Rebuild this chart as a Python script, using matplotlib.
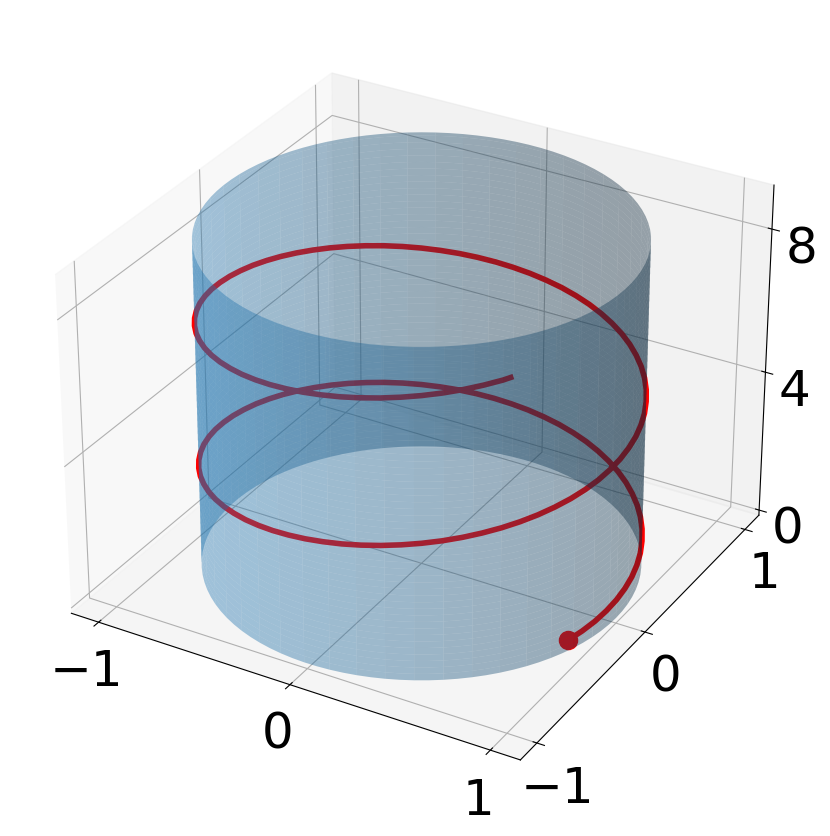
import numpy as np
import matplotlib
matplotlib.use("Agg")
import matplotlib.pyplot as plt

# helix in steps of 5 degrees round the cylinder
helix_x = [0.940, 0.966, 0.985, 0.996, 1.000, 0.996, 0.985, 0.966, 0.940, 0.906, 0.866, 0.819,
           0.766, 0.707, 0.643, 0.574, 0.500, 0.423, 0.342, 0.259, 0.174, 0.087, 0.000, -0.087,
           -0.174, -0.259, -0.342, -0.423, -0.500, -0.574, -0.643, -0.707, -0.766, -0.819, -0.866, -0.906,
           -0.940, -0.966, -0.985, -0.996, -1.000, -0.996, -0.985, -0.966, -0.940, -0.906, -0.866, -0.819,
           -0.766, -0.707, -0.643, -0.574, -0.500, -0.423, -0.342, -0.259, -0.174, -0.087, 0.000, 0.087,
           0.174, 0.259, 0.342, 0.423, 0.500, 0.574, 0.643, 0.707, 0.766, 0.819, 0.866, 0.906,
           0.940, 0.966, 0.985, 0.996, 1.000, 0.996, 0.985, 0.966, 0.940, 0.906, 0.866, 0.819,
           0.766, 0.707, 0.643, 0.574, 0.500, 0.423, 0.342, 0.259, 0.174, 0.087, 0.000, -0.087,
           -0.174, -0.259, -0.342, -0.423, -0.500, -0.574, -0.643, -0.707, -0.766, -0.819, -0.866, -0.906,
           -0.940, -0.966, -0.985, -0.996, -1.000, -0.996, -0.985, -0.966, -0.940, -0.906, -0.866, -0.819,
           -0.766, -0.707, -0.643, -0.574, -0.500, -0.423, -0.342, -0.259, -0.174, -0.087, 0.000, 0.087,
           0.174, 0.259, 0.342, 0.423, 0.500, 0.574, 0.643, 0.707, 0.766, 0.788]
helix_y = [-0.342, -0.259, -0.174, -0.087, 0.000, 0.087, 0.174, 0.259, 0.342, 0.423, 0.500, 0.574,
           0.643, 0.707, 0.766, 0.819, 0.866, 0.906, 0.940, 0.966, 0.985, 0.996, 1.000, 0.996,
           0.985, 0.966, 0.940, 0.906, 0.866, 0.819, 0.766, 0.707, 0.643, 0.574, 0.500, 0.423,
           0.342, 0.259, 0.174, 0.087, 0.000, -0.087, -0.174, -0.259, -0.342, -0.423, -0.500, -0.574,
           -0.643, -0.707, -0.766, -0.819, -0.866, -0.906, -0.940, -0.966, -0.985, -0.996, -1.000, -0.996,
           -0.985, -0.966, -0.940, -0.906, -0.866, -0.819, -0.766, -0.707, -0.643, -0.574, -0.500, -0.423,
           -0.342, -0.259, -0.174, -0.087, 0.000, 0.087, 0.174, 0.259, 0.342, 0.423, 0.500, 0.574,
           0.643, 0.707, 0.766, 0.819, 0.866, 0.906, 0.940, 0.966, 0.985, 0.996, 1.000, 0.996,
           0.985, 0.966, 0.940, 0.906, 0.866, 0.819, 0.766, 0.707, 0.643, 0.574, 0.500, 0.423,
           0.342, 0.259, 0.174, 0.087, 0.000, -0.087, -0.174, -0.259, -0.342, -0.423, -0.500, -0.574,
           -0.643, -0.707, -0.766, -0.819, -0.866, -0.906, -0.940, -0.966, -0.985, -0.996, -1.000, -0.996,
           -0.985, -0.966, -0.940, -0.906, -0.866, -0.819, -0.766, -0.707, -0.643, -0.616]
helix_z = [0.300, 0.355, 0.410, 0.465, 0.520, 0.575, 0.630, 0.685, 0.740, 0.795, 0.850, 0.905,
           0.960, 1.015, 1.070, 1.125, 1.180, 1.235, 1.290, 1.345, 1.400, 1.455, 1.510, 1.565,
           1.620, 1.675, 1.730, 1.785, 1.840, 1.895, 1.950, 2.005, 2.060, 2.115, 2.170, 2.225,
           2.280, 2.335, 2.390, 2.445, 2.500, 2.555, 2.610, 2.665, 2.720, 2.775, 2.830, 2.885,
           2.940, 2.995, 3.050, 3.105, 3.160, 3.215, 3.270, 3.325, 3.380, 3.435, 3.490, 3.545,
           3.600, 3.655, 3.710, 3.765, 3.820, 3.875, 3.930, 3.985, 4.040, 4.095, 4.150, 4.205,
           4.260, 4.315, 4.370, 4.425, 4.480, 4.535, 4.590, 4.645, 4.700, 4.755, 4.810, 4.865,
           4.920, 4.975, 5.030, 5.085, 5.140, 5.195, 5.250, 5.305, 5.360, 5.415, 5.470, 5.525,
           5.580, 5.635, 5.690, 5.745, 5.800, 5.855, 5.910, 5.965, 6.020, 6.075, 6.130, 6.185,
           6.240, 6.295, 6.350, 6.405, 6.460, 6.515, 6.570, 6.625, 6.680, 6.735, 6.790, 6.845,
           6.900, 6.955, 7.010, 7.065, 7.120, 7.175, 7.230, 7.285, 7.340, 7.395, 7.450, 7.505,
           7.560, 7.615, 7.670, 7.725, 7.780, 7.835, 7.890, 7.945, 8.000, 8.030]
cyl_radius = 1.0
cyl_height = 9.05
xy_ticks = [-1, 0, 1]
z_ticks = [0, 4, 8]

fig = plt.figure(figsize=(8.3, 8.36), dpi=100)
ax = fig.add_axes([0.0133, 0.0272, 0.963, 0.963], projection="3d")
ax.computed_zorder = False

ax.plot(helix_x, helix_y, helix_z, color="red", lw=4, zorder=1)
ax.scatter(helix_x[0], helix_y[0], helix_z[0], color="red", s=170, depthshade=False, zorder=1)

# open tube, drawn over the helix
u = np.linspace(0, 2 * np.pi, 100)
v = np.linspace(0, cyl_height, 100)
U, V = np.meshgrid(u, v)
ax.plot_surface(cyl_radius * np.cos(U), cyl_radius * np.sin(U), V, alpha=0.4, color="C0", shade=True, zorder=2)

ax.set_zlim(-0.15, 9.2)
ax.set_xticks(xy_ticks)
ax.set_yticks(xy_ticks)
ax.set_zticks(z_ticks)
ax.tick_params(labelsize=36)
ax.tick_params(axis="x", pad=5.5)
ax.tick_params(axis="y", pad=5.5)
ax.tick_params(axis="z", pad=5)

fig.savefig("out.png", dpi=100)
